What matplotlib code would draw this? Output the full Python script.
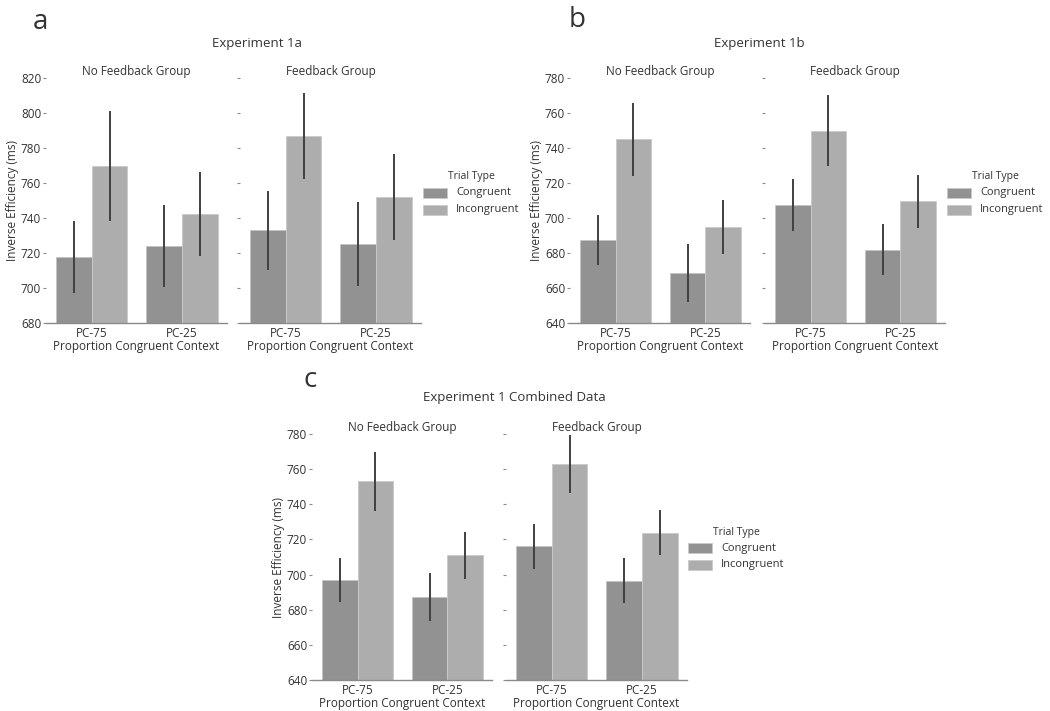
import numpy as np
import matplotlib
matplotlib.use("Agg")
import matplotlib.pyplot as plt
from matplotlib.patches import Rectangle

plt.rcParams['font.family'] = ['Open Sans', 'DejaVu Sans']

groups = ['PC-75', 'PC-25']
trial_types = ['Congruent', 'Incongruent']

# Experiment 1a
a_nofb_cong = [717.5, 724.0]
a_nofb_cong_err = [20.5, 23.5]
a_nofb_incong = [769.5, 742.0]
a_nofb_incong_err = [31.5, 24.0]
a_fb_cong = [733.0, 725.0]
a_fb_cong_err = [22.5, 24.0]
a_fb_incong = [787.0, 752.0]
a_fb_incong_err = [24.5, 24.5]

# Experiment 1b
b_nofb_cong = [687.5, 668.5]
b_nofb_cong_err = [14.5, 16.5]
b_nofb_incong = [745.0, 695.0]
b_nofb_incong_err = [21.0, 15.5]
b_fb_cong = [707.5, 682.0]
b_fb_cong_err = [15.0, 14.3]
b_fb_incong = [750.0, 709.5]
b_fb_incong_err = [20.5, 15.0]

# Experiment 1 combined
c_nofb_cong = [697.0, 687.0]
c_nofb_cong_err = [12.5, 13.7]
c_nofb_incong = [753.0, 711.0]
c_nofb_incong_err = [17.0, 13.5]
c_fb_cong = [716.0, 696.5]
c_fb_cong_err = [12.6, 12.8]
c_fb_incong = [763.0, 723.7]
c_fb_incong_err = [16.4, 12.8]

W, H = 1050, 711
COL_C = '#929292'
COL_I = '#adadad'
TXT = '#333333'

fig = plt.figure(figsize=(W / 100, H / 100), dpi=100)


def fx(x):
    return x / W


def fy(y):
    return 1 - y / H


def txt(x, y, s, size=8.5, ha='center', **kw):
    fig.text(fx(x), fy(y), s, ha=ha, va='center', fontsize=size, color=TXT, **kw)


def panel(rect, cong, cong_err, incong, incong_err, ylim, title, show_labels):
    x0, y0, x1, y1 = rect
    ax = fig.add_axes([fx(x0), fy(y1), fx(x1 - x0), (y1 - y0) / H])
    x = np.arange(len(groups))
    w = 0.395
    ax.bar(x - w / 2, cong, w, color=COL_C, edgecolor='#c4c4c4', linewidth=0.6)
    ax.bar(x + w / 2, incong, w, color=COL_I, edgecolor='#cacaca', linewidth=0.6)
    ax.errorbar(x - w / 2, cong, yerr=cong_err, fmt='none', ecolor='#404040',
                elinewidth=1.4, capsize=0)
    ax.errorbar(x + w / 2, incong, yerr=incong_err, fmt='none', ecolor='#404040',
                elinewidth=1.4, capsize=0)
    ax.set_xlim(-0.51, 1.5)
    ax.set_ylim(*ylim)
    ax.set_yticks(np.arange(ylim[0], ylim[1] + 1, 20))
    ax.set_xticks(x)
    ax.set_xticklabels(groups, fontsize=8.5, color=TXT)
    for s in ['top', 'right', 'left']:
        ax.spines[s].set_visible(False)
    ax.spines['bottom'].set_color('#8a8a8a')
    ax.spines['bottom'].set_linewidth(1.0)
    ax.tick_params(axis='x', length=0, pad=3)
    ax.tick_params(axis='y', length=2.5, width=0.8, color='#8a8a8a', pad=1,
                   labelsize=8.5, labelcolor=TXT)
    if not show_labels:
        ax.set_yticklabels([])
    else:
        ax.set_ylabel('Inverse Efficiency (ms)', fontsize=8.5, color=TXT, labelpad=1.5)
    ax.set_xlabel('Proportion Congruent Context', fontsize=8.5, color=TXT, labelpad=0)
    txt((x0 + x1) / 2, y0 - 6, title)
    return ax


def legend(x, y):
    txt(x + 25, y, 'Trial Type', size=7.5, ha='left')
    for i, (lab, col) in enumerate(zip(trial_types, [COL_C, COL_I])):
        yy = y + 16 + 17 * i
        fig.add_artist(Rectangle((fx(x), fy(yy + 5)), fx(24), 10 / H,
                                 transform=fig.transFigure, facecolor=col,
                                 edgecolor='#c8c8c8', linewidth=0.5))
        txt(x + 33, yy, lab, size=8, ha='left')


# panel a
panel((46, 78, 227, 323), a_nofb_cong, a_nofb_cong_err, a_nofb_incong, a_nofb_incong_err,
      (680, 820), 'No Feedback Group', True)
panel((240, 78, 421, 323), a_fb_cong, a_fb_cong_err, a_fb_incong, a_fb_incong_err,
      (680, 820), 'Feedback Group', False)
legend(423, 177)
txt(257, 43, 'Experiment 1a', size=9.5)
txt(40, 22, 'a', size=20)

# panel b
panel((570, 78, 750, 323), b_nofb_cong, b_nofb_cong_err, b_nofb_incong, b_nofb_incong_err,
      (640, 780), 'No Feedback Group', True)
panel((765, 78, 945, 323), b_fb_cong, b_fb_cong_err, b_fb_incong, b_fb_incong_err,
      (640, 780), 'Feedback Group', False)
legend(947, 177)
txt(759, 43, 'Experiment 1b', size=9.5)
txt(577, 20, 'b', size=20)

# panel c
panel((312, 434, 492, 680), c_nofb_cong, c_nofb_cong_err, c_nofb_incong, c_nofb_incong_err,
      (640, 780), 'No Feedback Group', True)
panel((506, 434, 687, 680), c_fb_cong, c_fb_cong_err, c_fb_incong, c_fb_incong_err,
      (640, 780), 'Feedback Group', False)
legend(688, 532)
txt(514, 398, 'Experiment 1 Combined Data', size=9.5)
txt(310, 380, 'c', size=20)

fig.savefig('out.png', dpi=100)
